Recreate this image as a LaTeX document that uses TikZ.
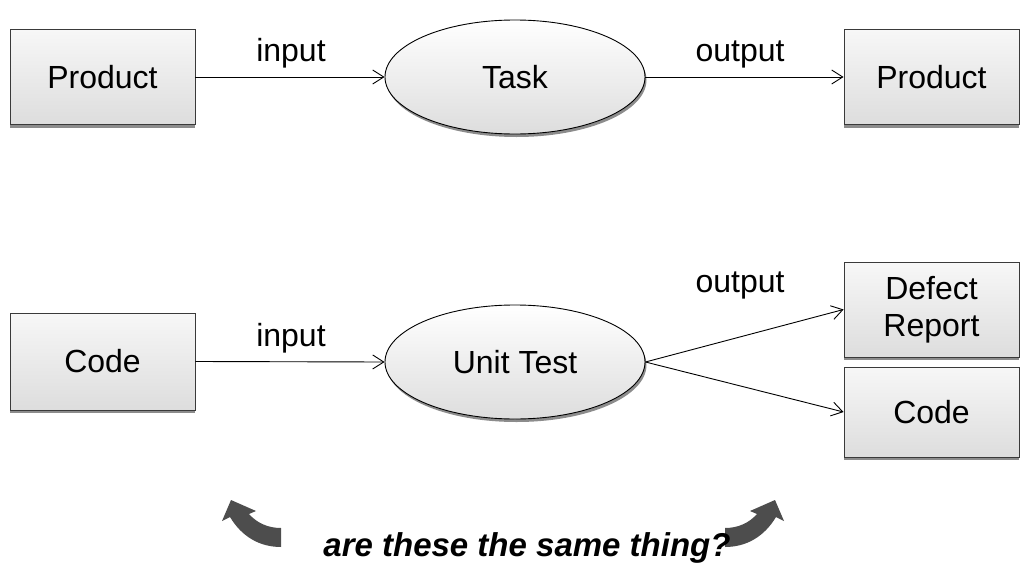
\documentclass[tikz,border=0pt]{standalone}
\usepackage{fontspec}
\setmainfont{Liberation Sans}
\usetikzlibrary{arrows.meta,shapes.geometric,shadows}
\definecolor{edge}{HTML}{3A3A3A}
\definecolor{fillTop}{HTML}{F7F7F7}
\definecolor{fillBot}{HTML}{DDDDDD}
\definecolor{shade}{HTML}{8C8C8C}
\definecolor{bend}{HTML}{4D4D4D}
\begin{document}
\begin{tikzpicture}[x=1pt,y=-1pt,
  txt/.style={font=\fontsize{32}{37}\selectfont},
  box/.style={txt, draw=edge, line width=0.9pt, top color=fillTop, bottom color=fillBot,
    align=center, inner sep=0pt,
    drop shadow={shadow xshift=0pt, shadow yshift=-3pt, fill=shade, opacity=1}},
  task/.style={txt, ellipse, draw=black, line width=0.9pt, top color=white, bottom color=fillBot,
    minimum width=260pt, minimum height=114pt, inner sep=0pt,
    drop shadow={shadow xshift=1.5pt, shadow yshift=-3pt, fill=shade, opacity=1}},
  flow/.style={draw=black, line width=0.9pt, -{Straight Barb[length=11pt,width=14pt,line width=0.9pt]}},
  lbl/.style={txt, anchor=base, inner sep=0pt},
  curl/.style={fill=bend, draw=none}
]
\useasboundingbox (0,0) rectangle (1021,565);

% generic task: product in, product out
\node[box, minimum width=185pt, minimum height=95pt] (pin) at (102.5,77) {Product};
\node[task] (task) at (515,77) {Task};
\node[box, minimum width=175pt, minimum height=95pt] (pout) at (931.5,77) {Product};
\draw[flow] (pin.east) -- (task.west);
\draw[flow] (task.east) -- (pout.west);
\node[lbl] (lin) at (291,61) {input};
\node[lbl] (lout) at (740,61) {output};

% concrete task: unit testing code
\node[box, minimum width=185pt, minimum height=97pt] (cin) at (102.5,361.5) {Code};
\node[task] (ut) at (515,362) {Unit Test};
\node[box, minimum width=175pt, minimum height=95pt] (defect) at (931.5,309.5) {Defect\\Report};
\node[box, minimum width=175pt, minimum height=90pt] (cout) at (931.5,412) {Code};
\draw[flow] (cin.east) -- (ut.west);
\draw[flow] (ut.east) -- (defect.west);
\draw[flow] (ut.east) -- (cout.west);
\node[lbl] (lin2) at (291,346) {input};
\node[lbl] (lout2) at (740,292) {output};

% curved block arrows pointing up at each row
\fill[curl] (281,528) -- (281,547)
  .. controls (260,547) and (242,537) .. (230,517)
  -- (222,521) -- (231,500) -- (256,511) -- (249,514)
  .. controls (257,523) and (268,528) .. (281,528) -- cycle;
\fill[curl] (725,528) -- (725,547)
  .. controls (746,547) and (764,537) .. (776,517)
  -- (784,521) -- (775,500) -- (750,511) -- (757,514)
  .. controls (749,523) and (738,528) .. (725,528) -- cycle;

\node[anchor=base, inner sep=0pt, font=\fontsize{33}{38}\selectfont\bfseries\itshape] (q) at (527,556) {are these the same thing?};
\end{tikzpicture}
\end{document}
